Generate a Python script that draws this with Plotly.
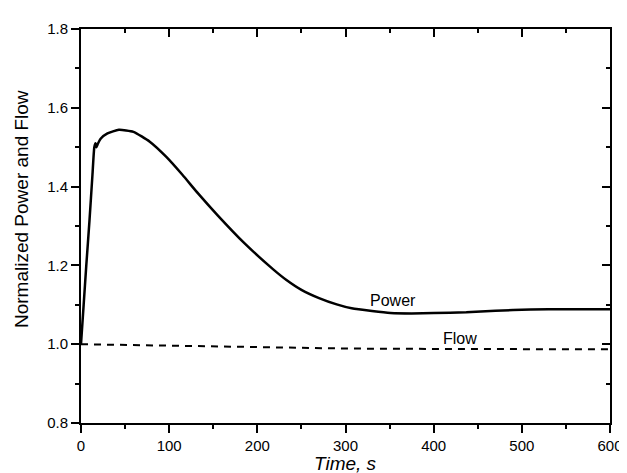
import plotly.graph_objects as go

# Data
time_power = [0, 3, 6, 9.6, 13, 15.1, 16.5, 17.5, 19, 22.5, 30, 43, 59.5, 78, 96.5,
              115, 133, 155, 185, 218, 233, 250, 270, 290, 307, 330, 351, 375, 400,
              437, 470, 510, 550, 600]
power = [1.0, 1.10, 1.20, 1.313, 1.43, 1.50, 1.51, 1.50, 1.508, 1.522, 1.535, 1.544,
         1.539, 1.514, 1.476, 1.43, 1.382, 1.327, 1.257, 1.190, 1.163, 1.138, 1.117,
         1.101, 1.091, 1.084, 1.079, 1.078, 1.079, 1.081, 1.085, 1.088, 1.089, 1.089]

time_flow = [0, 100, 200, 300, 400, 500, 600]
flow = [1.0, 0.996, 0.992, 0.989, 0.988, 0.987, 0.987]

x_ticks = [0, 100, 200, 300, 400, 500, 600]
y_ticks = [0.8, 1.0, 1.2, 1.4, 1.6, 1.8]
y_tick_text = ["0.8", "1.0", "1.2", "1.4", "1.6", "1.8"]

FONT = "Liberation Sans, Arial, sans-serif"

fig = go.Figure()
fig.add_trace(go.Scatter(x=time_power, y=power, mode="lines",
                         line=dict(color="black", width=2.5, shape="spline", smoothing=0.5),
                         showlegend=False))
# flow drawn on the mirrored (top/right) axes, which share the same ranges
fig.add_trace(go.Scatter(x=time_flow, y=flow, mode="lines", xaxis="x2", yaxis="y2",
                         line=dict(color="black", width=2, dash="7px,6px"), showlegend=False))

axis_common = dict(showgrid=False, zeroline=False, showline=True, linecolor="black",
                   linewidth=2, tickcolor="black", tickwidth=1.5)

fig.update_layout(
    width=627, height=473,
    margin=dict(l=73, r=13, t=16, b=58),
    paper_bgcolor="white", plot_bgcolor="white",
    font=dict(family=FONT, size=15, color="black"),
    xaxis=dict(range=[0, 600], tickvals=x_ticks, ticks="outside", ticklen=8,
               minor=dict(ticks="outside", ticklen=4, dtick=50, tickcolor="black", tickwidth=1.5),
               **axis_common),
    yaxis=dict(range=[0.8, 1.8], tickvals=y_ticks, ticktext=y_tick_text, ticks="outside",
               ticklen=8,
               minor=dict(ticks="outside", ticklen=4, dtick=0.1, tickcolor="black", tickwidth=1.5),
               **axis_common),
    xaxis2=dict(range=[0, 600], overlaying="x", side="top", tickvals=x_ticks,
                ticks="inside", ticklen=8, showticklabels=False,
                minor=dict(ticks="inside", ticklen=4, dtick=50, tickcolor="black", tickwidth=1.5),
                **axis_common),
    yaxis2=dict(range=[0.8, 1.8], overlaying="y", side="right", tickvals=y_ticks,
                ticks="inside", ticklen=8, showticklabels=False,
                minor=dict(ticks="inside", ticklen=4, dtick=0.1, tickcolor="black", tickwidth=1.5),
                **axis_common),
)

fig.add_annotation(text="<i>Time, s</i>", xref="paper", yref="paper", x=0.5, y=0,
                   yshift=-40, showarrow=False, font=dict(size=19), yanchor="middle")
fig.add_annotation(text="Normalized Power and Flow", xref="paper", yref="paper", x=0, y=0.5,
                   xshift=-60, yshift=17, textangle=-90, showarrow=False, font=dict(size=19),
                   xanchor="center", yanchor="middle")
fig.add_annotation(text="Power", x=354, y=1.110, showarrow=False, font=dict(size=16))
fig.add_annotation(text="Flow", x=430, y=1.015, showarrow=False, font=dict(size=16))

fig.write_html("out.html")
